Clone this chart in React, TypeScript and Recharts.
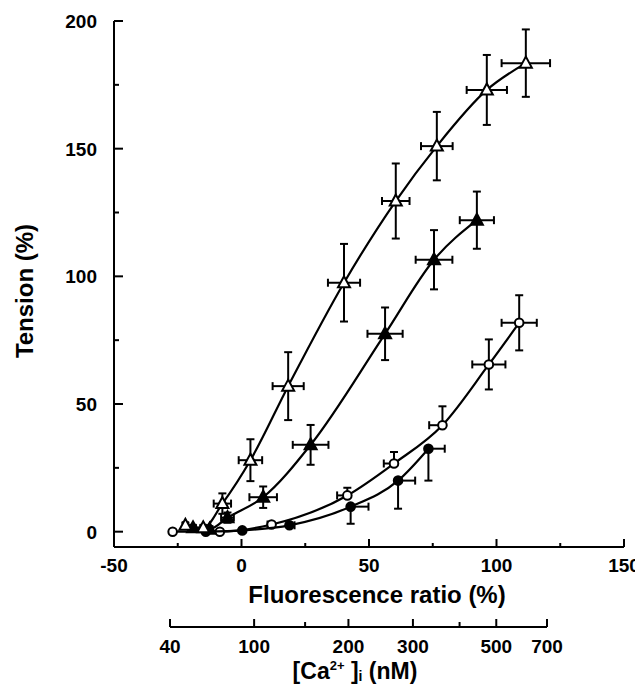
import React from 'react';
import { ComposedChart, Scatter, XAxis, YAxis, ErrorBar, Customized } from 'recharts';

const FONT = '"Liberation Sans", Arial, Helvetica, sans-serif';

// ---- Data (Fluorescence ratio %, Tension %) ----
const openTriX = [-22, -15, -7.5, 3.5, 18.3, 40.2, 60.5, 76.6, 96.2, 111.5];
const openTriY = [2.5, 1.5, 11, 28, 57, 97.5, 129.5, 151, 173, 183.5];
const openTriEx = [1, 1, 3.4, 4.6, 6.1, 6.3, 5.4, 6.2, 7.9, 9.5];
const openTriEy = [1, 1, 4, 8.2, 13.3, 15.2, 14.7, 13.4, 13.7, 13.2];

const filledTriX = [-19, -12.5, -5.5, 8.5, 27.1, 56.3, 75.5, 92.3];
const filledTriY = [1.5, 1, 5.5, 13.5, 34, 77.5, 106.5, 122];
const filledTriEx = [1, 1, 2.5, 5.4, 7, 6.9, 7.2, 6.7];
const filledTriEy = [1, 1, 2, 4.2, 7.8, 10.3, 11.6, 11.2];

const openCircX = [-27, -8.5, 11.8, 41.5, 59.8, 78.8, 97, 108.9];
const openCircY = [0, 0, 2.8, 14.2, 26.7, 41.7, 65.5, 81.8];
const openCircExLo = [0, 0, 1.6, 4, 4, 5.2, 6.5, 6.9];
const openCircExHi = [0, 0, 0, 0, 0, 0, 6.5, 6.9];
const openCircEyLo = [0, 0, 0, 0, 0, 0, 9.8, 10.8];
const openCircEyHi = [0, 0, 0, 3, 4.5, 7.4, 9.8, 10.8];

const filledCircX = [-14, 0.3, 18.8, 42.8, 61.4, 73.3];
const filledCircY = [0, 0.5, 2.5, 9.8, 20, 32.5];
const filledCircExLo = [0, 0, 0, 0, 0, 0];
const filledCircExHi = [0, 0, 2, 7, 6.7, 6.4];
const filledCircEyLo = [0, 0, 0, 6.7, 11, 12.5];
const filledCircEyHi = [0, 0, 0, 0, 0, 0];

// ---- Axis ticks ----
const xTicks = [-50, -25, 0, 25, 50, 75, 100, 125, 150];
const xTickLabels = [-50, 0, 50, 100, 150];
const yTicks = [0, 25, 50, 75, 100, 125, 150, 175, 200];
const yTickLabels = [0, 50, 100, 150, 200];

// [Ca2+]i calibration: positions on the fluorescence-ratio scale
const caValues = [40, 100, 150, 200, 300, 400, 500, 700];
const caPositions = [-27.9, 5.1, 25.1, 42.1, 67.4, 85.7, 100.1, 120.0];
const caLabels = ['40', '100', '', '200', '300', '', '500', '700'];

const sym = (xs: number[], ys: number[], ex: number[], ey: number[]) =>
  xs.map((x, i) => ({ x, y: ys[i], ex: [ex[i], ex[i]], ey: [ey[i], ey[i]] }));
const asym = (xs: number[], ys: number[], exLo: number[], exHi: number[], eyLo: number[], eyHi: number[]) =>
  xs.map((x, i) => ({ x, y: ys[i], ex: [exLo[i], exHi[i]], ey: [eyLo[i], eyHi[i]] }));

const openTriData = sym(openTriX, openTriY, openTriEx, openTriEy);
const filledTriData = sym(filledTriX, filledTriY, filledTriEx, filledTriEy);
const openCircData = asym(openCircX, openCircY, openCircExLo, openCircExHi, openCircEyLo, openCircEyHi);
const filledCircData = asym(filledCircX, filledCircY, filledCircExLo, filledCircExHi, filledCircEyLo, filledCircEyHi);

const triShape = (filled: boolean) => (props: any) => {
  const { cx, cy } = props;
  if (cx == null || cy == null) return <g />;
  const pts = `${cx},${cy - 6.5} ${cx - 6},${cy + 4.5} ${cx + 6},${cy + 4.5}`;
  return <polygon points={pts} fill={filled ? '#000' : '#fff'} stroke="#000" strokeWidth={2} strokeLinejoin="miter" />;
};
const circShape = (filled: boolean) => (props: any) => {
  const { cx, cy } = props;
  if (cx == null || cy == null) return <g />;
  return <circle cx={cx} cy={cy} r={4.3} fill={filled ? '#000' : '#fff'} stroke="#000" strokeWidth={2} />;
};

const MainXTick = (props: any) => {
  const { x, y, payload } = props;
  const v = payload.value;
  const major = xTickLabels.includes(v);
  return (
    <g>
      <line x1={x} x2={x} y1={y} y2={y - (major ? 8 : 4)} stroke="#000" strokeWidth={2} />
      {major && (
        <text x={x} y={y + 25} textAnchor="middle" fontFamily={FONT} fontWeight="bold" fontSize={19} fill="#000">
          {v}
        </text>
      )}
    </g>
  );
};

const MainYTick = (props: any) => {
  const { x, y, payload } = props;
  const v = payload.value;
  const major = yTickLabels.includes(v);
  return (
    <g>
      <line x1={x} x2={x + (major ? 9 : 5)} y1={y} y2={y} stroke="#000" strokeWidth={2} />
      {major && (
        <text x={x - 17} y={y} dy="0.36em" textAnchor="end" fontFamily={FONT} fontWeight="bold" fontSize={19} fill="#000">
          {v}
        </text>
      )}
    </g>
  );
};

const CaTick = (props: any) => {
  const { x, y, payload } = props;
  const i = caPositions.indexOf(payload.value);
  const label = i >= 0 ? caLabels[i] : '';
  const major = label !== '';
  return (
    <g>
      <line x1={x} x2={x} y1={y} y2={y - (major ? 8 : 5)} stroke="#000" strokeWidth={2} />
      {major && (
        <text x={x} y={y + 26} textAnchor="middle" fontFamily={FONT} fontWeight="bold" fontSize={19} fill="#000">
          {label}
        </text>
      )}
    </g>
  );
};

const MainTitles = () => (
  <g>
    <text x={369} y={595} textAnchor="middle" fontFamily={FONT} fontWeight="bold" fontSize={24} fill="#000">
      Fluorescence ratio (%)
    </text>
    <text
      x={0}
      y={0}
      transform="translate(25,283) rotate(-90)"
      textAnchor="middle"
      fontFamily={FONT}
      fontWeight="bold"
      fontSize={24}
      fill="#000"
    >
      Tension (%)
    </text>
  </g>
);

const CaTitle = () => (
  <text x={347} y={71} textAnchor="middle" fontFamily={FONT} fontWeight="bold" fontSize={23} fill="#000">
    [Ca
    <tspan dy={-9} fontSize={13}>2+</tspan>
    <tspan dy={9}> ]</tspan>
    <tspan dy={2} fontSize={14}>i</tspan>
    <tspan dy={-2}> (nM)</tspan>
  </text>
);

const lineStyle = { stroke: '#000', strokeWidth: 2.2, fill: 'none' };

export default function App() {
  return (
    <div style={{ width: 635, background: '#fff' }}>
      <ComposedChart width={635} height={600} margin={{ top: 13, right: 19, bottom: 11, left: 0 }}>
        <XAxis
          type="number"
          dataKey="x"
          domain={[-50, 150]}
          ticks={xTicks}
          interval={0}
          allowDataOverflow
          height={50}
          tickSize={0}
          tickMargin={0}
          tickLine={false}
          tick={<MainXTick />}
          axisLine={{ stroke: '#000', strokeWidth: 2 }}
        />
        <YAxis
          type="number"
          dataKey="y"
          domain={[-6, 200]}
          ticks={yTicks}
          interval={0}
          allowDataOverflow
          width={106}
          tickSize={0}
          tickMargin={0}
          tickLine={false}
          tick={<MainYTick />}
          axisLine={{ stroke: '#000', strokeWidth: 2 }}
        />
        <Scatter data={openCircData} line={lineStyle} lineJointType="monotoneX" shape={circShape(false)} isAnimationActive={false}>
          <ErrorBar dataKey="ex" direction="x" width={4} stroke="#000" strokeWidth={2} />
          <ErrorBar dataKey="ey" direction="y" width={4} stroke="#000" strokeWidth={2} />
        </Scatter>
        <Scatter data={filledCircData} line={lineStyle} lineJointType="monotoneX" shape={circShape(true)} isAnimationActive={false}>
          <ErrorBar dataKey="ex" direction="x" width={4} stroke="#000" strokeWidth={2} />
          <ErrorBar dataKey="ey" direction="y" width={4} stroke="#000" strokeWidth={2} />
        </Scatter>
        <Scatter data={filledTriData} line={lineStyle} lineJointType="monotoneX" shape={triShape(true)} isAnimationActive={false}>
          <ErrorBar dataKey="ex" direction="x" width={4} stroke="#000" strokeWidth={2} />
          <ErrorBar dataKey="ey" direction="y" width={4} stroke="#000" strokeWidth={2} />
        </Scatter>
        <Scatter data={openTriData} line={lineStyle} lineJointType="monotoneX" shape={triShape(false)} isAnimationActive={false}>
          <ErrorBar dataKey="ex" direction="x" width={4} stroke="#000" strokeWidth={2} />
          <ErrorBar dataKey="ey" direction="y" width={4} stroke="#000" strokeWidth={2} />
        </Scatter>
        <Customized component={<MainTitles />} />
      </ComposedChart>
      <ComposedChart width={635} height={81} margin={{ top: 0, right: 96, bottom: 0, left: 162 }}>
        <XAxis
          type="number"
          dataKey="x"
          domain={[caPositions[0], caPositions[caPositions.length - 1]]}
          ticks={caPositions}
          interval={0}
          allowDataOverflow
          height={62}
          tickSize={0}
          tickMargin={0}
          tickLine={false}
          tick={<CaTick />}
          axisLine={{ stroke: '#000', strokeWidth: 2 }}
        />
        <YAxis hide type="number" domain={[0, 1]} />
        <Customized component={<CaTitle />} />
      </ComposedChart>
    </div>
  );
}
